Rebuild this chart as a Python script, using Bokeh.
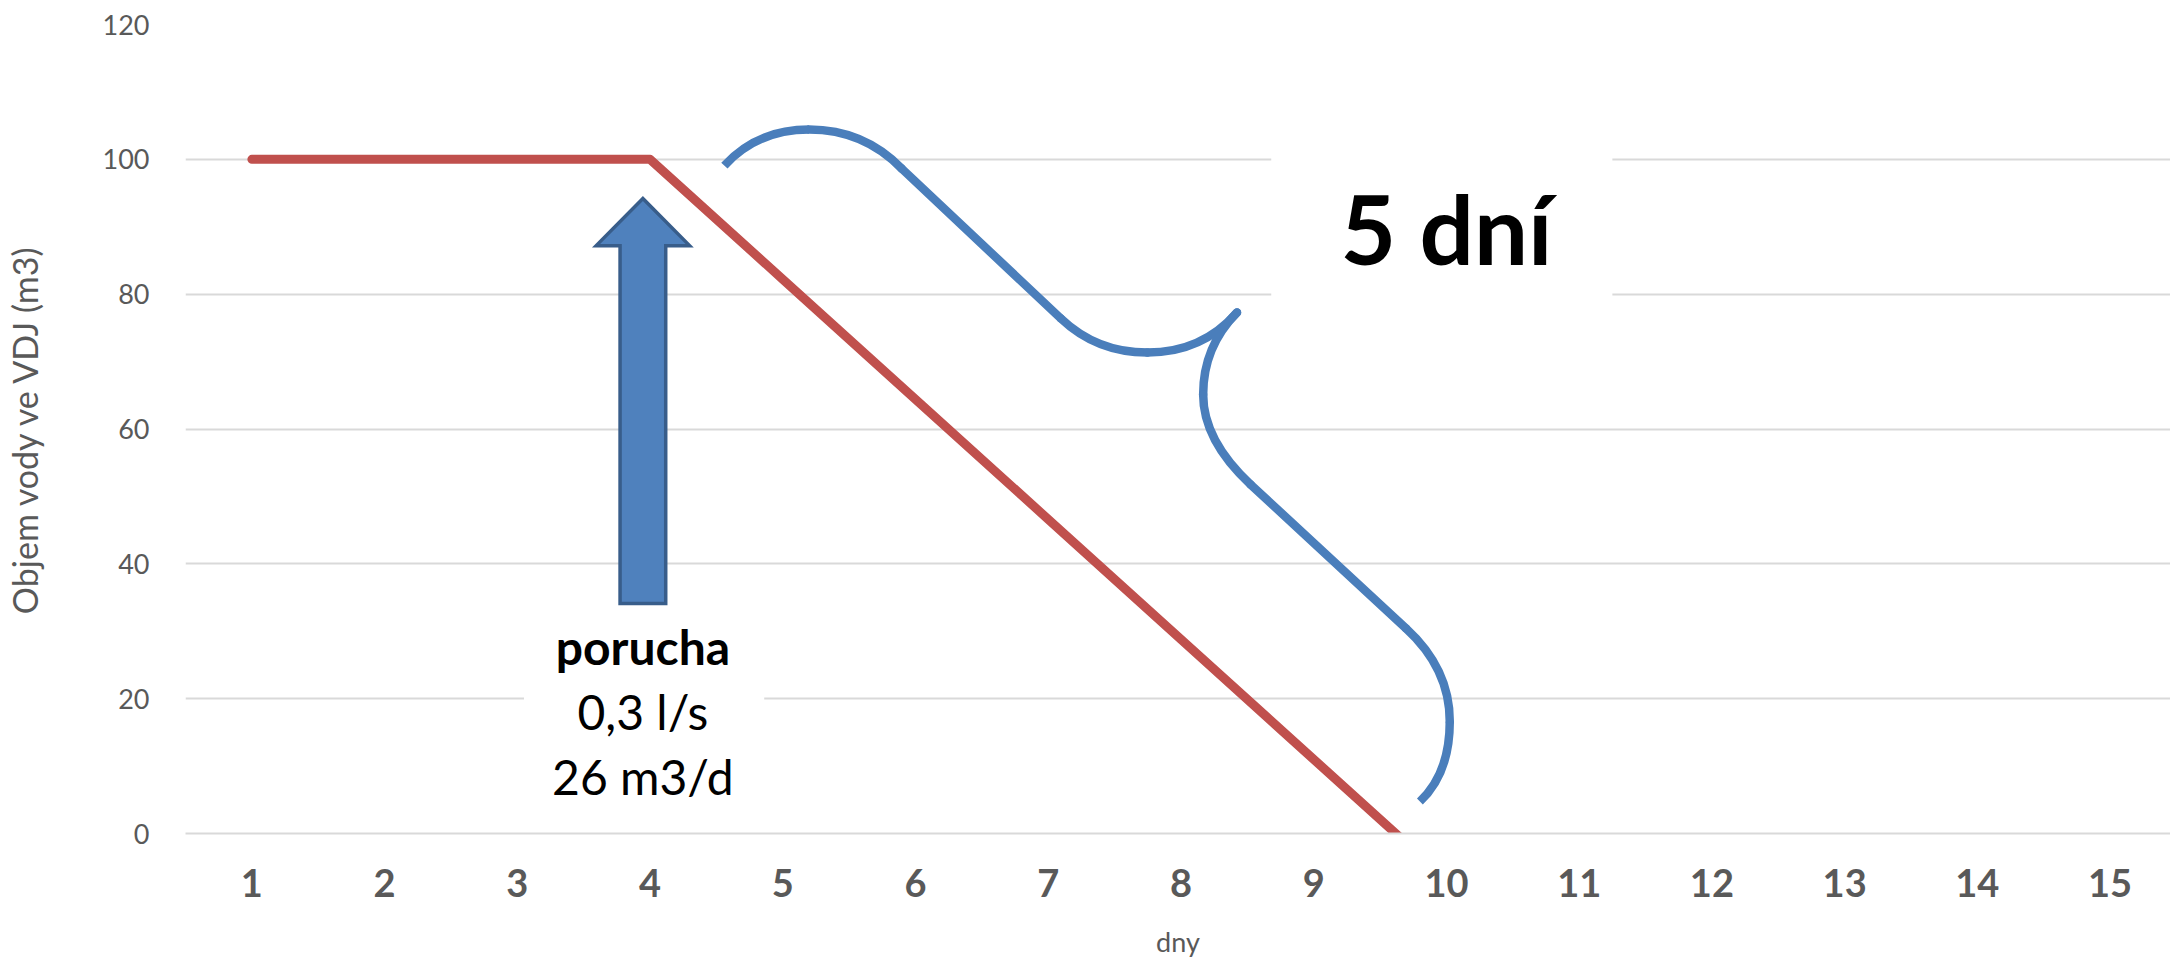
from bokeh.plotting import figure
from bokeh.models import FixedTicker, Label
from bokeh.embed import file_html
from bokeh.resources import INLINE

# ---------------- data ----------------
days = [1, 2, 3, 4, 5, 6, 7, 8, 9, 10]
volume = [100, 100, 100, 100, 82.2, 64.4, 46.6, 28.8, 11.0, -6.8]

x_ticks = list(range(1, 16))
y_ticks = [0, 20, 40, 60, 80, 100, 120]

x_title = "dny"
y_title = "Objem vody ve VDJ (m3)"

# failure annotation (block arrow + text)
arrow_x = 3.946
arrow_bottom = 34.1
arrow_head_base = 87.2
arrow_tip = 94.2
arrow_shaft_half = 0.172
arrow_head_half = 0.352

failure_lines = ["porucha", "0,3 l/s", "26 m3/d"]
failure_bold = ["bold", "normal", "normal"]
failure_baselines = [27.7, 18.1, 8.4]
failure_box = dict(left=3.05, right=4.86, bottom=3.0, top=33.4)

# curly brace annotation, key points (day, m3)
brace_q_x0 = [4.560, 5.198, 7.095, 7.747, 8.422, 8.167, 9.695, 10.025]
brace_q_y0 = [99.08, 104.42, 76.39, 71.34, 77.28, 65.11, 30.41, 16.61]
brace_q_cx = [4.808, 5.610, 7.365, 8.160, 8.167, 8.167, 10.025, 10.025]
brace_q_cy = [104.42, 104.42, 71.34, 71.34, 72.23, 58.29, 24.47, 8.90]
brace_q_x1 = [5.198, 5.895, 7.747, 8.422, 8.167, 8.525, 10.025, 9.800]
brace_q_y1 = [104.42, 98.64, 71.34, 77.28, 65.11, 51.76, 16.61, 4.75]
brace_s_x0 = [5.895, 8.525]
brace_s_y0 = [98.64, 51.76]
brace_s_x1 = [7.095, 9.695]
brace_s_y1 = [76.39, 30.41]

brace_label = "5 dní"
brace_label_x = 10.0
brace_label_y = 89.9
brace_box = dict(left=8.68, right=11.25, bottom=77.9, top=102.3)

# ---------------- styles ----------------
RED = "#C0504D"
BLUE = "#4A7EBB"
ARROW_FILL = "#4F81BD"
ARROW_LINE = "#385D8A"
GRID = "#D9D9D9"
AXIS_TEXT = "#595959"
FONT = "Lato"

p = figure(
    width=2170, height=960,
    x_range=(0.5, 15.455), y_range=(0, 120),
    output_backend="svg", toolbar_location=None,
    min_border_left=175, min_border_right=0,
    min_border_top=24, min_border_bottom=127,
)
p.outline_line_color = None
p.background_fill_color = "white"
p.border_fill_color = "white"

# axes
p.xaxis.ticker = FixedTicker(ticks=x_ticks)
p.yaxis.ticker = FixedTicker(ticks=y_ticks)
for ax in (p.xaxis[0], p.yaxis[0]):
    ax.major_tick_line_color = None
    ax.minor_tick_line_color = None
    ax.major_label_text_color = AXIS_TEXT
    ax.major_label_text_font = FONT
    ax.axis_label_text_color = AXIS_TEXT
    ax.axis_label_text_font = FONT
    ax.axis_label_text_font_style = "normal"
p.xaxis.axis_line_color = GRID
p.xaxis.axis_line_width = 2
p.yaxis.axis_line_color = None

p.xaxis.axis_label = x_title
p.xaxis.major_label_text_font_size = "38px"
p.xaxis.major_label_text_font_style = "bold"
p.xaxis.major_label_standoff = 29
p.xaxis.axis_label_text_font_size = "27px"
p.xaxis.axis_label_standoff = 25

p.yaxis.axis_label = y_title
p.yaxis.major_label_text_font_size = "27px"
p.yaxis.major_label_standoff = 30
p.yaxis.axis_label_text_font_size = "34px"
p.yaxis.axis_label_standoff = 55

p.xgrid.grid_line_color = None
p.ygrid.grid_line_color = GRID
p.ygrid.grid_line_width = 2

# white text boxes (cover grid lines)
p.quad(left=[failure_box["left"]], right=[failure_box["right"]],
       bottom=[failure_box["bottom"]], top=[failure_box["top"]],
       fill_color="white", line_color=None)
p.quad(left=[brace_box["left"]], right=[brace_box["right"]],
       bottom=[brace_box["bottom"]], top=[brace_box["top"]],
       fill_color="white", line_color=None)

# main series
p.line(days, volume, line_color=RED, line_width=9,
       line_cap="round", line_join="round")

# block arrow
ax_ = [arrow_x - arrow_shaft_half, arrow_x - arrow_shaft_half, arrow_x - arrow_head_half,
       arrow_x, arrow_x + arrow_head_half, arrow_x + arrow_shaft_half, arrow_x + arrow_shaft_half]
ay_ = [arrow_bottom, arrow_head_base, arrow_head_base, arrow_tip,
       arrow_head_base, arrow_head_base, arrow_bottom]
p.patch(ax_, ay_, fill_color=ARROW_FILL, line_color=ARROW_LINE, line_width=3.5,
        line_join="miter")

# curly brace
inner = slice(1, 7)
p.quadratic(x0=brace_q_x0[inner], y0=brace_q_y0[inner], x1=brace_q_x1[inner], y1=brace_q_y1[inner],
            cx=brace_q_cx[inner], cy=brace_q_cy[inner],
            line_color=BLUE, line_width=8.5, line_cap="round")
ends = [0, 7]
p.quadratic(x0=[brace_q_x0[i] for i in ends], y0=[brace_q_y0[i] for i in ends],
            x1=[brace_q_x1[i] for i in ends], y1=[brace_q_y1[i] for i in ends],
            cx=[brace_q_cx[i] for i in ends], cy=[brace_q_cy[i] for i in ends],
            line_color=BLUE, line_width=8.5, line_cap="butt")
p.segment(x0=brace_s_x0, y0=brace_s_y0, x1=brace_s_x1, y1=brace_s_y1,
          line_color=BLUE, line_width=8.5, line_cap="round")

# texts
for txt, style, yb in zip(failure_lines, failure_bold, failure_baselines):
    p.add_layout(Label(x=arrow_x, y=yb, text=txt, text_align="center",
                       text_baseline="alphabetic", text_font=FONT,
                       text_font_size="48px", text_font_style=style,
                       text_color="black"))

p.add_layout(Label(x=brace_label_x, y=brace_label_y, text=brace_label,
                   text_align="center", text_baseline="alphabetic",
                   text_font=FONT, text_font_size="96px",
                   text_font_style="bold", text_color="black"))

open("out.html", "w").write(file_html(p, INLINE))
